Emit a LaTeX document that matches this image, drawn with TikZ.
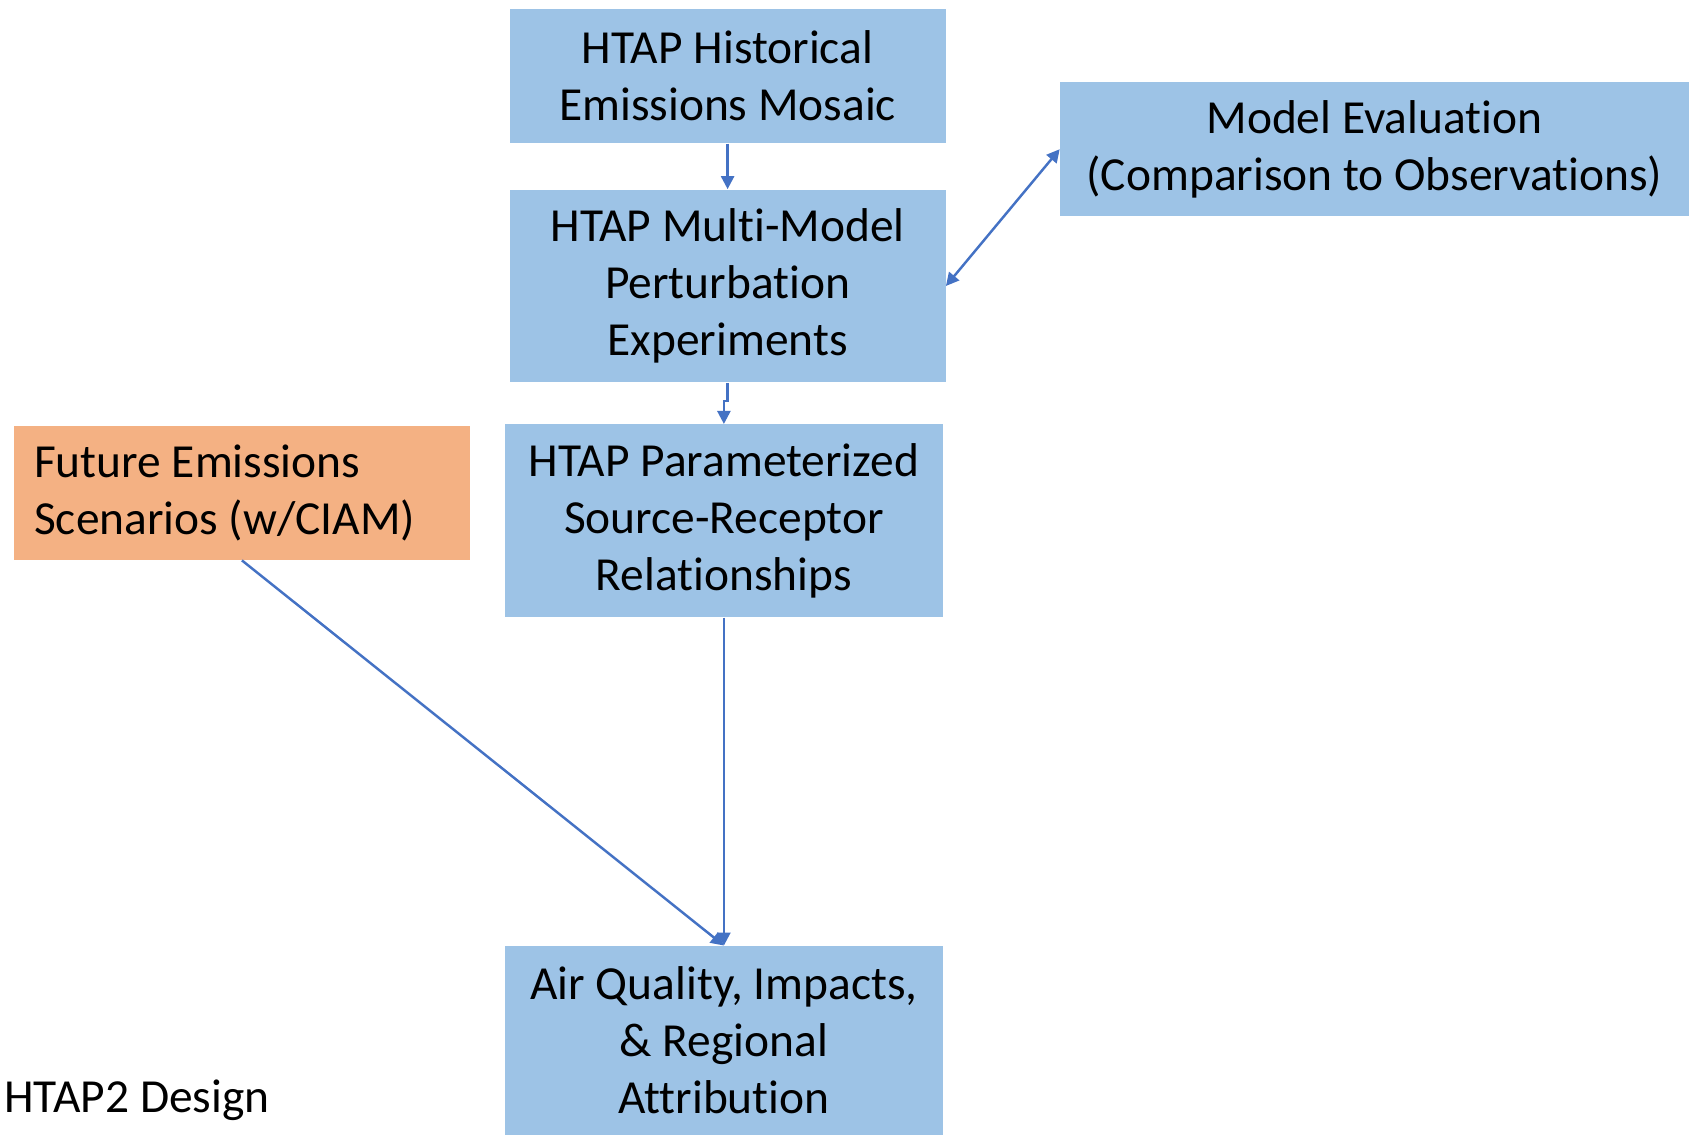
\documentclass[tikz,border=0pt]{standalone}
\usepackage{fontspec}
\setmainfont[RawFeature={-liga;-clig;-calt;-dlig}]{Carlito}
\usepackage{tikz}
\usetikzlibrary{calc,arrows.meta}
\definecolor{boxblue}{HTML}{9DC3E6}
\definecolor{boxorange}{HTML}{F4B183}
\definecolor{linkblue}{HTML}{4472C4}
\begin{document}
\begin{tikzpicture}[x=0.02cm,y=-0.02cm]
                      \tikzstyle{box}=[fill=boxblue,draw=none,align=center,inner sep=0pt,font=\fontsize{27pt}{32.4pt}\selectfont]
                      \tikzstyle{link}=[draw=linkblue,line width=1.4pt,-{Triangle[length=0.26cm,width=0.26cm]}]
                      \useasboundingbox (0,0) rectangle (1689,1136);
                      \node[box, minimum width=8.72cm, minimum height=2.69cm] (hist) at (727.6,76) {HTAP Historical\\Emissions Mosaic};
                      \node[box, minimum width=8.72cm, minimum height=3.86cm] (multi) at (727.6,286) {HTAP Multi-Model\\Perturbation\\Experiments};
                      \node[box, minimum width=12.58cm, minimum height=2.69cm] (eval) at (1374.5,149.2) {Model Evaluation\\(Comparison to Observations)};
                      \node[box, minimum width=8.75cm, minimum height=3.86cm] (param) at (723.9,520.8) {HTAP Parameterized\\Source-Receptor\\Relationships};
                      \node[box, fill=boxorange, align=flush left, text width=8.31cm, inner xsep=0.4cm, minimum height=2.69cm] (future) at (241.9,492.8) {Future Emissions\\Scenarios (w/CIAM)};
                      \node[box, minimum width=8.75cm, minimum height=3.79cm] (air) at (723.9,1040.6) {Air Quality, Impacts,\\\& Regional\\Attribution};
                      \node[font=\fontsize{27pt}{32.4pt}\selectfont, anchor=base west, inner sep=0pt] (title) at (4,1112.7) {HTAP2 Design};
                      \draw[link] (hist.south) -- (multi.north);
                      \draw[link] (multi.south) -- ++(0,-0.36cm) -| (param.north);
                      \draw[link, {Triangle[length=0.26cm,width=0.26cm]}-{Triangle[length=0.26cm,width=0.26cm]}] (multi.east) -- (eval.west);
                      \draw[link] (param.south) -- (air.north);
                      \draw[link] (future.south) -- (air.north);
                  \end{tikzpicture}
\end{document}
